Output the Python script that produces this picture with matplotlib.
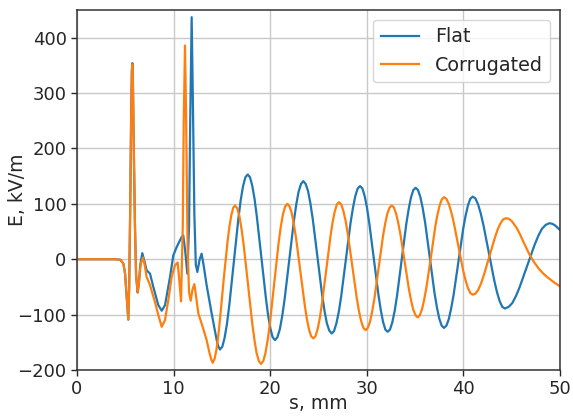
import matplotlib
matplotlib.use("Agg")
import matplotlib.pyplot as plt

# values (s in mm, E in kV/m)
s_flat = [0, 4.0, 4.5, 4.8, 4.97, 5.14, 5.31, 5.4, 5.5, 5.6, 5.68, 5.73, 5.78, 5.88, 6.0,
          6.12, 6.28, 6.4, 6.55, 6.76, 7.0, 7.21, 7.56, 7.9, 8.42, 8.77, 9.11, 9.63, 9.97,
          10.32, 10.83, 11.0, 11.2, 11.42, 11.6, 11.72, 11.87, 12.0, 12.15, 12.3, 12.46,
          12.7, 12.9, 13.1, 13.42, 13.94, 14.46, 14.62, 14.8,
          15.04, 15.28, 15.52, 15.76, 16.24, 16.71, 16.95, 17.19, 17.43, 17.67,
          17.91, 18.14, 18.38, 18.61, 19.09, 19.56, 19.79, 20.03, 20.26, 20.5,
          20.74, 20.99, 21.23, 21.48, 21.97, 22.45, 22.70, 22.94, 23.19, 23.43,
          23.67, 23.92, 24.16, 24.41, 24.9, 25.38, 25.63, 25.87, 26.12, 26.36,
          26.6, 26.85, 27.1, 27.34, 27.83, 28.32, 28.57, 28.81, 29.06, 29.3,
          29.54, 29.78, 30.01, 30.25, 30.73, 31.21, 31.45, 31.68, 31.92, 32.16,
          32.4, 32.64, 32.89, 33.13, 33.61, 34.09, 34.34, 34.58, 34.82, 35.06,
          35.3, 35.55, 35.79, 36.04, 36.53, 37.01, 37.26, 37.5, 37.75, 37.99,
          38.24, 38.49, 38.73, 38.98, 39.48, 39.97, 40.22, 40.47, 40.71, 40.96,
          41.24, 41.52, 41.79, 42.07, 42.63, 43.19, 43.47, 43.74, 44.02, 44.3,
          44.68, 45.07, 45.45, 45.83, 46.6, 47.37, 47.75, 48.13, 48.52, 48.9,
          49.2, 49.5, 49.8, 50]
e_flat = [0, 0, -1, -8, -25, -68, -109, -50, 80, 250, 340, 354, 330, 200, 60,
          -30, -60, -45, -10, 11, -5, -20, -26, -50, -83, -93, -83, -32, 7,
          22, 40, 43, 15, -26, 60, 250, 437, 280, 80, -10, -23,
          0, 10, -10, -47, -98, -146, -157, -163,
          -158, -142, -117, -84, -5, 74, 107, 132, 148, 153,
          148, 133, 109, 78, 3, -71, -102, -126, -141, -146,
          -141, -127, -104, -74, -2, 69, 99, 122, 136, 141,
          136, 123, 101, 72, 3, -65, -94, -116, -129, -134,
          -130, -116, -95, -68, -1, 66, 93, 114, 128, 132,
          128, 114, 94, 66, 0, -65, -92, -113, -127, -131,
          -127, -114, -93, -66, -1, 64, 91, 112, 125, 129,
          125, 112, 92, 66, 2, -61, -87, -107, -120, -124,
          -120, -108, -89, -65, -5, 54, 78, 97, 109, 113,
          110, 99, 83, 62, 12, -38, -59, -75, -86, -89,
          -86, -79, -66, -50, -12, 26, 42, 55, 62, 65,
          64, 61, 56, 53]

s_corr = [0, 4.0, 4.5, 4.8, 4.97, 5.14, 5.31, 5.4, 5.5, 5.6, 5.68, 5.73, 5.78, 5.88, 6.0,
          6.12, 6.28, 6.45, 6.6, 6.83, 7.0, 7.21, 7.56, 8.07, 8.42, 8.77, 9.11, 9.45, 9.8,
          10.14, 10.42, 10.6, 10.77, 10.95, 11.05, 11.18, 11.3, 11.45, 11.6, 11.77, 11.95,
          12.15, 12.35, 12.56, 12.9, 13.42, 13.7, 13.9, 14.05,
          14.24, 14.44, 14.63, 14.82, 15.21, 15.59, 15.79, 15.98, 16.17, 16.36,
          16.58, 16.81, 17.03, 17.26, 17.71, 18.15, 18.38, 18.6, 18.83, 19.05,
          19.28, 19.5, 19.73, 19.96, 20.41, 20.86, 21.09, 21.32, 21.54, 21.77,
          21.99, 22.22, 22.44, 22.67, 23.12, 23.57, 23.79, 24.02, 24.24, 24.47,
          24.69, 24.91, 25.13, 25.35, 25.8, 26.24, 26.46, 26.68, 26.9, 27.12,
          27.35, 27.58, 27.81, 28.04, 28.5, 28.96, 29.19, 29.42, 29.65, 29.88,
          30.1, 30.33, 30.55, 30.78, 31.23, 31.67, 31.9, 32.12, 32.35, 32.57,
          32.79, 33.02, 33.24, 33.47, 33.92, 34.36, 34.59, 34.81, 35.04, 35.26,
          35.49, 35.72, 35.94, 36.17, 36.63, 37.08, 37.31, 37.54, 37.76, 37.99,
          38.24, 38.49, 38.73, 38.98, 39.48, 39.97, 40.22, 40.47, 40.71, 40.96,
          41.25, 41.54, 41.82, 42.11, 42.69, 43.26, 43.55, 43.84, 44.12, 44.41,
          44.7, 45.0, 45.5, 45.86, 46.3, 46.8, 47.3, 47.8, 48.27, 48.8, 49.4, 50]
e_corr = [0, 0, -1, -8, -25, -68, -109, -50, 80, 250, 340, 352, 330, 200, 60,
          -30, -60, -35, -8, 3, -10, -32, -47, -77, -101, -122, -110, -74, -32,
          -11, -6, -40, -76, 60, 250, 386, 250, 20, -60, -75, -55,
          -45, -70, -98, -116, -146, -168, -181, -187,
          -180, -163, -138, -105, -32, 33, 60, 80, 93, 97,
          92, 78, 55, 25, -46, -117, -147, -170, -184, -189,
          -184, -170, -147, -117, -44, 28, 58, 81, 95, 100,
          96, 84, 64, 39, -21, -82, -107, -127, -139, -143,
          -139, -126, -107, -81, -20, 41, 67, 86, 99, 103,
          99, 87, 69, 45, -12, -70, -94, -112, -124, -128,
          -124, -113, -95, -72, -15, 41, 64, 82, 93, 97,
          94, 83, 67, 46, -4, -54, -75, -91, -101, -105,
          -101, -90, -73, -51, 3, 58, 80, 97, 108, 112,
          109, 100, 86, 68, 24, -20, -38, -52, -61, -64,
          -62, -55, -44, -29, 5, 39, 54, 65, 72, 74,
          73, 69, 57, 45, 28, 10, -5, -17, -26, -34, -42, -49]

plt.rcParams["font.family"] = "DejaVu Sans"
plt.rcParams["text.color"] = "#262626"
plt.rcParams["axes.labelcolor"] = "#262626"
plt.rcParams["xtick.color"] = "#262626"
plt.rcParams["ytick.color"] = "#262626"

fig = plt.figure(figsize=(5.73, 4.16), dpi=100)
ax = fig.add_axes([77 / 573, 46 / 416, 483 / 573, 360 / 416])

ax.plot(s_flat, e_flat, color="#1f77b4", lw=1.6, label="Flat")
ax.plot(s_corr, e_corr, color="#ff7f0e", lw=1.6, label="Corrugated")

ax.set_xlim(0, 50)
ax.set_ylim(-200, 450)
ax.set_xticks([0, 10, 20, 30, 40, 50])
ax.set_yticks([-200, -100, 0, 100, 200, 300, 400])
ax.grid(True, color="#c8c8c8", lw=1.0)
ax.set_axisbelow(True)
for sp in ax.spines.values():
    sp.set_color("#333333")
    sp.set_linewidth(1.1)
ax.tick_params(direction="out", length=4, width=1.0, labelsize=13)

ax.set_xlabel("s, mm", fontsize=13.5, labelpad=-3.5)
ax.set_ylabel("E, kV/m", fontsize=13.5)
ax.yaxis.set_label_coords(-0.1035, 0.5)
ax.legend(loc="upper right", fontsize=13.8, handlelength=2.0)

fig.savefig("out.png", dpi=100)
